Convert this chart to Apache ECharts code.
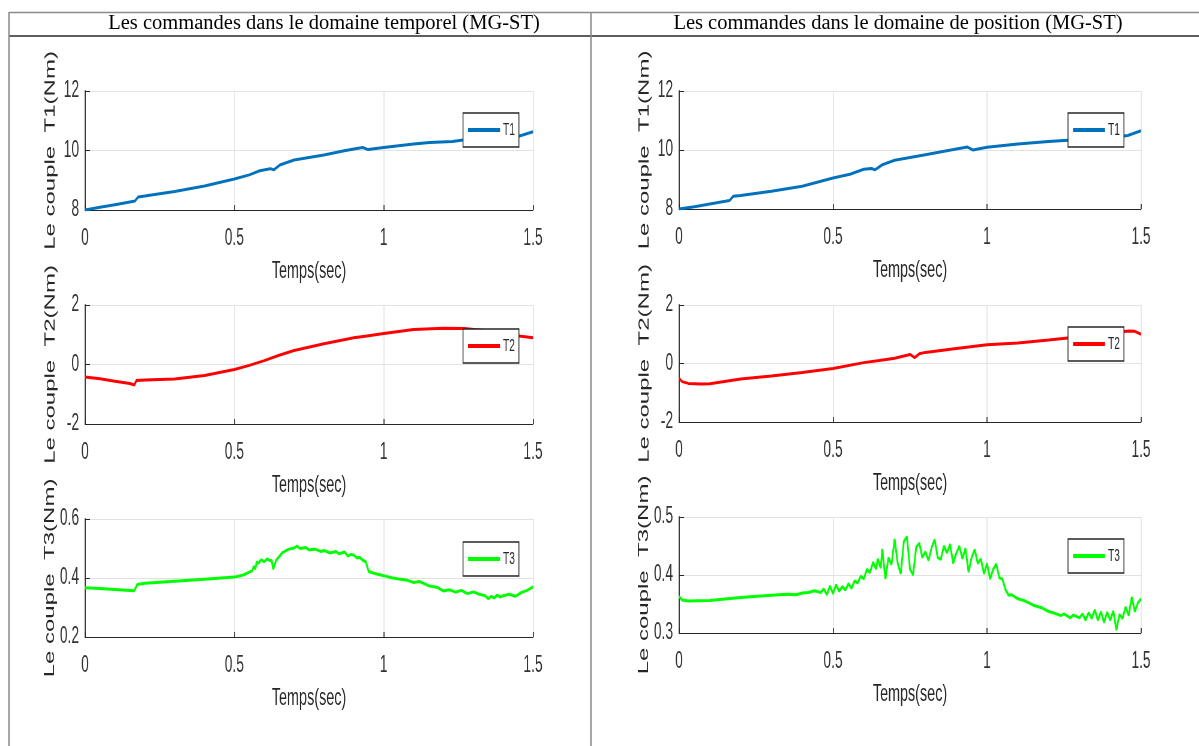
<!DOCTYPE html>
<html>
<head>
<meta charset="utf-8">
<script src="https://cdn.jsdelivr.net/npm/echarts@6/dist/echarts.min.js"></script>
<style>
  html, body { margin: 0; padding: 0; background: #fff; overflow: hidden; }
  #table { position: absolute; left: 0; top: 0; width: 1199px; height: 746px; }
  /* plots are laid out wide, then squeezed horizontally like the exported figures */
  #plots { position: absolute; left: 0; top: 0; width: 1998px; height: 746px;
           transform: scaleX(0.6); transform-origin: 0 0; }
</style>
</head>
<body>
<div id="table"></div>
<div id="plots"></div>
<script>
// ---- column headings ----
const headings = [
  'Les commandes dans le domaine temporel (MG-ST)',
  'Les commandes dans le domaine de position (MG-ST)'
];

// ---- axis ticks ----
const xTicks = [0, 0.5, 1, 1.5];
const ticksT1 = [8, 10, 12];
const ticksT2 = [-2, 0, 2];
const ticksT3temporel = [0.2, 0.4, 0.6];
const ticksT3position = [0.3, 0.4, 0.5];
const xName = 'Temps(sec)';
const yNames = ['Le couple  T1(Nm)', 'Le couple  T2(Nm)', 'Le couple  T3(Nm)'];
const seriesNames = ['T1', 'T2', 'T3'];

// ---- torques, temporal domain control: [time (s), torque (Nm)] ----
const T1_temporel = [
  [0, 8.0], [0.05, 8.09], [0.1, 8.18], [0.15, 8.27], [0.167, 8.3], [0.178, 8.44],
  [0.2, 8.47], [0.3, 8.62], [0.4, 8.81], [0.5, 9.04], [0.55, 9.18], [0.585, 9.32],
  [0.62, 9.39], [0.632, 9.35], [0.652, 9.51], [0.7, 9.68], [0.8, 9.85], [0.864, 9.98],
  [0.9, 10.05], [0.93, 10.1], [0.948, 10.03], [1.0, 10.1], [1.1, 10.22], [1.154, 10.27],
  [1.23, 10.3], [1.266, 10.35], [1.35, 10.4], [1.42, 10.45], [1.455, 10.49], [1.5, 10.63]
];
const T2_temporel = [
  [0, -0.42], [0.05, -0.48], [0.1, -0.56], [0.15, -0.64], [0.165, -0.69], [0.172, -0.54],
  [0.2, -0.52], [0.3, -0.49], [0.4, -0.37], [0.5, -0.17], [0.55, -0.03], [0.6, 0.13],
  [0.65, 0.31], [0.7, 0.47], [0.8, 0.7], [0.9, 0.9], [0.95, 0.97], [1.0, 1.04],
  [1.1, 1.18], [1.2, 1.22], [1.27, 1.21], [1.35, 1.13], [1.42, 1.01], [1.46, 0.95], [1.5, 0.9]
];
const T3_temporel = [
  [0, 0.367], [0.05, 0.364], [0.1, 0.361], [0.165, 0.357], [0.175, 0.378], [0.2, 0.382],
  [0.3, 0.389], [0.4, 0.396], [0.5, 0.403], [0.53, 0.41], [0.55, 0.42], [0.56, 0.425],
  [0.565, 0.44], [0.57, 0.43], [0.575, 0.455], [0.58, 0.45], [0.59, 0.462], [0.6, 0.455],
  [0.61, 0.465], [0.62, 0.458], [0.625, 0.46], [0.63, 0.43], [0.635, 0.445], [0.64, 0.46],
  [0.66, 0.485], [0.68, 0.497], [0.7, 0.502], [0.71, 0.508], [0.72, 0.5], [0.74, 0.503],
  [0.75, 0.495], [0.77, 0.498], [0.79, 0.49], [0.8, 0.493], [0.82, 0.485], [0.84, 0.49],
  [0.85, 0.482], [0.87, 0.488], [0.88, 0.474], [0.89, 0.48], [0.9, 0.478], [0.91, 0.468],
  [0.92, 0.47], [0.93, 0.46], [0.94, 0.455], [0.95, 0.422], [0.97, 0.415], [1.0, 0.408],
  [1.03, 0.4], [1.05, 0.397], [1.08, 0.392], [1.1, 0.385], [1.12, 0.388], [1.15, 0.374],
  [1.18, 0.368], [1.2, 0.356], [1.22, 0.36], [1.24, 0.352], [1.26, 0.358], [1.28, 0.347],
  [1.3, 0.353], [1.32, 0.345], [1.34, 0.34], [1.35, 0.33], [1.36, 0.338], [1.37, 0.332],
  [1.38, 0.342], [1.39, 0.335], [1.4, 0.34], [1.42, 0.345], [1.44, 0.338], [1.46, 0.35],
  [1.48, 0.358], [1.5, 0.37]
];

// ---- torques, position domain control: [time (s), torque (Nm)] ----
const T1_position = [
  [0, 8.0], [0.05, 8.08], [0.1, 8.17], [0.15, 8.26], [0.164, 8.29], [0.176, 8.43],
  [0.2, 8.46], [0.3, 8.6], [0.4, 8.77], [0.5, 9.05], [0.555, 9.18], [0.6, 9.35],
  [0.625, 9.37], [0.636, 9.33], [0.66, 9.5], [0.7, 9.65], [0.8, 9.84], [0.9, 10.03],
  [0.937, 10.1], [0.954, 10.0], [1.0, 10.09], [1.1, 10.2], [1.2, 10.29], [1.25, 10.32],
  [1.35, 10.38], [1.42, 10.44], [1.457, 10.49], [1.5, 10.65]
];
const T2_position = [
  [0, -0.5], [0.01, -0.62], [0.03, -0.68], [0.07, -0.7], [0.1, -0.69], [0.2, -0.53],
  [0.3, -0.43], [0.4, -0.31], [0.5, -0.17], [0.6, 0.03], [0.65, 0.1], [0.7, 0.18],
  [0.74, 0.28], [0.75, 0.31], [0.765, 0.2], [0.78, 0.33], [0.8, 0.38], [0.9, 0.51],
  [1.0, 0.64], [1.1, 0.7], [1.2, 0.8], [1.27, 0.88], [1.3, 0.92], [1.4, 1.04],
  [1.46, 1.11], [1.48, 1.1], [1.5, 1.0]
];
const T3_position = [
  [0, 0.363], [0.01, 0.357], [0.03, 0.355], [0.1, 0.356], [0.2, 0.361], [0.3, 0.365],
  [0.35, 0.367], [0.38, 0.366], [0.4, 0.369], [0.42, 0.37], [0.44, 0.373], [0.46, 0.37],
  [0.47, 0.376], [0.48, 0.366], [0.49, 0.381], [0.5, 0.368], [0.51, 0.383], [0.52, 0.372],
  [0.53, 0.38], [0.54, 0.374], [0.55, 0.385], [0.56, 0.377], [0.57, 0.39], [0.58, 0.386],
  [0.59, 0.398], [0.6, 0.393], [0.61, 0.41], [0.62, 0.404], [0.63, 0.422], [0.64, 0.41],
  [0.645, 0.428], [0.655, 0.412], [0.66, 0.445], [0.67, 0.393], [0.68, 0.43], [0.69, 0.418],
  [0.7, 0.462], [0.71, 0.42], [0.72, 0.402], [0.73, 0.458], [0.74, 0.466], [0.75, 0.41],
  [0.76, 0.4], [0.77, 0.448], [0.78, 0.455], [0.79, 0.43], [0.8, 0.44], [0.81, 0.425],
  [0.82, 0.447], [0.83, 0.461], [0.84, 0.43], [0.85, 0.427], [0.86, 0.45], [0.87, 0.438],
  [0.88, 0.453], [0.89, 0.42], [0.9, 0.437], [0.91, 0.45], [0.92, 0.428], [0.93, 0.446],
  [0.94, 0.405], [0.95, 0.43], [0.96, 0.444], [0.97, 0.42], [0.98, 0.428], [0.99, 0.402],
  [1.0, 0.42], [1.01, 0.393], [1.02, 0.41], [1.03, 0.419], [1.04, 0.395], [1.05, 0.393],
  [1.06, 0.375], [1.07, 0.365], [1.08, 0.366], [1.1, 0.359], [1.12, 0.356], [1.15, 0.348],
  [1.18, 0.343], [1.2, 0.337], [1.22, 0.334], [1.24, 0.33], [1.25, 0.333], [1.27, 0.326],
  [1.28, 0.331], [1.3, 0.326], [1.31, 0.333], [1.32, 0.322], [1.33, 0.335], [1.34, 0.325],
  [1.35, 0.34], [1.36, 0.322], [1.37, 0.337], [1.38, 0.318], [1.39, 0.336], [1.4, 0.322],
  [1.41, 0.338], [1.42, 0.305], [1.43, 0.332], [1.44, 0.325], [1.45, 0.345], [1.46, 0.33],
  [1.47, 0.362], [1.48, 0.337], [1.49, 0.352], [1.5, 0.359]
];

const lineColors = ['#0072BD', '#FF0000', '#00FF00'];

// ---------------------------------------------------------------
// Table frame and headings (unsqueezed)
const tableChart = echarts.init(document.getElementById('table'), null, { renderer: 'canvas' });
const frameGray = '#8a8a8a';
const headFont = '20.5px "Liberation Serif", "Times New Roman", serif';
tableChart.setOption({
  animation: false,
  graphic: [
    { type: 'line', shape: { x1: 9, y1: 12.5, x2: 1199, y2: 12.5 }, style: { stroke: frameGray, lineWidth: 1.5 } },
    { type: 'line', shape: { x1: 9, y1: 36, x2: 1199, y2: 36 }, style: { stroke: '#2a2a2a', lineWidth: 1.5 } },
    { type: 'line', shape: { x1: 9, y1: 12, x2: 9, y2: 746 }, style: { stroke: frameGray, lineWidth: 1.5 } },
    { type: 'line', shape: { x1: 591, y1: 12, x2: 591, y2: 746 }, style: { stroke: frameGray, lineWidth: 1.5 } },
    { type: 'text', x: 324, y: 24, style: { text: headings[0], fill: '#000', font: headFont, textAlign: 'center', textVerticalAlign: 'middle' } },
    { type: 'text', x: 898, y: 24, style: { text: headings[1], fill: '#000', font: headFont, textAlign: 'center', textVerticalAlign: 'middle' } }
  ]
});

// ---------------------------------------------------------------
// Six torque plots (internal coordinates are 1/0.6 wider than the screen)
const SX = 0.6;
const px = v => v / SX;   // screen x -> internal x
const axisColor = '#262626';
const gridColor = '#e2e2e2';
const sans = '"Liberation Sans", Arial, Helvetica, sans-serif';

// plot boxes in screen pixels: [left, top, width, height]
const boxes = [
  [85, 91, 448, 119], [85, 305, 448, 119], [85, 519, 448, 118],
  [679, 91, 462, 118], [679, 305, 462, 117], [679, 517, 462, 116]
];
// legend boxes in screen pixels: [left, top]
const legendPos = [
  [463, 113], [463, 329], [463, 542],
  [1068, 113], [1068, 327], [1068, 539]
];
const yTicks = [ticksT1, ticksT2, ticksT3temporel, ticksT1, ticksT2, ticksT3position];
const datasets = [T1_temporel, T2_temporel, T3_temporel, T1_position, T2_position, T3_position];

const round6 = v => Math.round(v * 1e6) / 1e6;

const grid = [], xAxis = [], yAxis = [], series = [], legend = [];
boxes.forEach((b, i) => {
  const k = i % 3;
  grid.push({ left: px(b[0]), top: b[1], width: px(b[2]), height: b[3], containLabel: false });
  xAxis.push({
    type: 'value', gridIndex: i,
    min: xTicks[0], max: xTicks[xTicks.length - 1], interval: round6(xTicks[1] - xTicks[0]),
    name: xName, nameLocation: 'middle', nameGap: 49,
    nameTextStyle: { fontFamily: sans, fontSize: 24, color: axisColor },
    axisLine: { show: true, onZero: false, lineStyle: { color: axisColor, width: 1.2 } },
    axisTick: { show: true, inside: true, length: 5, lineStyle: { color: axisColor, width: 1.6 } },
    axisLabel: { fontFamily: sans, fontSize: 23, color: '#333', margin: 17, showMinLabel: true, showMaxLabel: true },
    splitLine: { show: true, lineStyle: { color: gridColor, width: 1.6 } }
  });
  const yt = yTicks[i];
  yAxis.push({
    type: 'value', gridIndex: i,
    min: yt[0], max: yt[yt.length - 1], interval: round6(yt[1] - yt[0]),
    name: yNames[k], nameLocation: 'middle', nameGap: px(27),
    nameTextStyle: { fontFamily: sans, fontSize: 24, color: axisColor },
    axisLine: { show: true, onZero: false, lineStyle: { color: axisColor, width: 1.8 } },
    axisTick: { show: true, inside: true, length: px(5), lineStyle: { color: axisColor, width: 1 } },
    axisLabel: { fontFamily: sans, fontSize: 23, color: '#333', margin: px(6), showMinLabel: true, showMaxLabel: true },
    splitLine: { show: true, lineStyle: { color: gridColor, width: 1 } }
  });
  series.push({
    type: 'line', name: seriesNames[k], xAxisIndex: i, yAxisIndex: i,
    data: datasets[i], showSymbol: false, symbol: 'none',
    lineStyle: { color: lineColors[k], width: 3 },
    itemStyle: { color: lineColors[k] },
    silent: true
  });
  legend.push({
    data: [seriesNames[k]], left: px(legendPos[i][0]), top: legendPos[i][1],
    orient: 'horizontal', icon: 'rect', itemWidth: px(32), itemHeight: 4,
    backgroundColor: '#fff', borderColor: axisColor, borderWidth: 1.4, borderRadius: 0,
    padding: [8, px(4), 8, px(5)],
    textStyle: { fontFamily: sans, fontSize: 17, lineHeight: 18, color: axisColor },
    selectedMode: false
  });
});

const plotChart = echarts.init(document.getElementById('plots'), null, { renderer: 'canvas' });
plotChart.setOption({ animation: false, grid, xAxis, yAxis, series, legend });
</script>
</body>
</html>
